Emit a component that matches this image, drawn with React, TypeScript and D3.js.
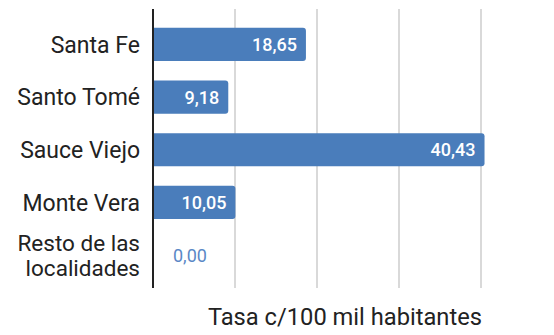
import React from "react";
import * as d3 from "d3";

const categories = ["Santa Fe", "Santo Tomé", "Sauce Viejo", "Monte Vera", "Resto de las\nlocalidades"];
const values = [18.65, 9.18, 40.43, 10.05, 0.0];
const gridTicks = [10, 20, 30, 40];
const axisTitle = "Tasa c/100 mil habitantes";

const W = 554;
const H = 335;
const fmt = (v: number) => v.toFixed(2).replace(".", ",");

export default function App() {
  const x = d3.scaleLinear().domain([0, 40]).range([153, 481]);
  const y = d3.scaleBand<string>().domain(categories).range([18, 281.5]).paddingInner(0.37).paddingOuter(0.185);
  const bh = y.bandwidth();
  const r = 3;
  const font = "Roboto, 'Noto Sans', sans-serif";
  return (
    <svg width={W} height={H} style={{ position: "absolute", left: 0, top: 0 }} fontFamily={font}>
      <rect width={W} height={H} fill="#fff" />
      {gridTicks.map((t) => (
        <line key={t} x1={x(t)} x2={x(t)} y1={9} y2={288} stroke="#cccccc" strokeWidth={1.5} />
      ))}
      {values.map((v, i) => {
        const c = categories[i];
        const y0 = y(c)!;
        const x0 = x(0);
        const x1 = x(v);
        const w = x1 - x0;
        if (w <= 0) return null;
        const rr = Math.min(r, w);
        const d = `M${x0},${y0}H${x1 - rr}Q${x1},${y0} ${x1},${y0 + rr}V${y0 + bh - rr}Q${x1},${y0 + bh} ${x1 - rr},${y0 + bh}H${x0}Z`;
        return <path key={c} d={d} fill="#4a7dbb" />;
      })}
      {values.map((v, i) => {
        const c = categories[i];
        const cy = y(c)! + bh / 2;
        const inside = v > 0;
        return (
          <text
            key={"l" + c}
            x={inside ? x(v) - 9 : x(0) + 20}
            y={cy}
            dy="0.36em"
            textAnchor={inside ? "end" : "start"}
            fontSize={18}
            fontWeight={inside ? 500 : 400}
            fill={inside ? "#ffffff" : "#5a88c6"}
          >
            {fmt(v)}
          </text>
        );
      })}
      {categories.map((c) => {
        const lines = c.split("\n");
        const cy = y(c)! + bh / 2;
        const lh = 25;
        return (
          <text key={"c" + c} x={140} textAnchor="end" fontSize={lines.length > 1 ? 22.5 : 23} fill="#222">
            {lines.map((ln, j) => (
              <tspan key={j} x={140} y={cy + (j - (lines.length - 1) / 2) * lh} dy="0.36em">
                {ln}
              </tspan>
            ))}
          </text>
        );
      })}
      <line x1={x(0)} x2={x(0)} y1={9} y2={288} stroke="#222" strokeWidth={2} />
      <text x={482} y={325} textAnchor="end" fontSize={23.7} fill="#222">
        {axisTitle}
      </text>
    </svg>
  );
}
